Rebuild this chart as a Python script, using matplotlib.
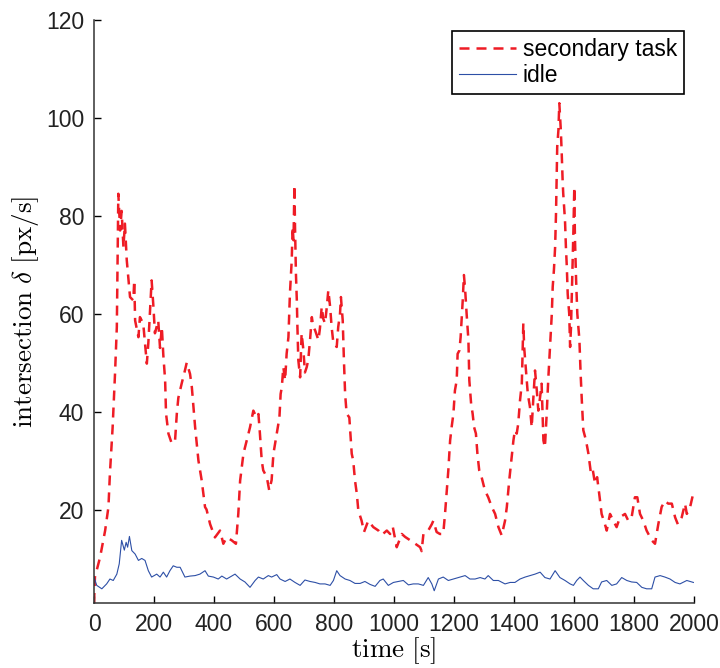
##################
#### Packages ####
##################

import numpy as np
import matplotlib
matplotlib.use('Agg')
import matplotlib.pyplot as plt

##############
#### Data ####
##############

# secondary task (red dashed)
t_task = [0, 3, 20, 37, 48, 53, 62, 70, 76, 81, 87, 92, 98, 103, 109, 120, 131, 134, 137, 148,
          153, 164, 176, 181, 192, 198, 203, 214, 220, 226, 231, 237, 240, 248, 259, 270, 276, 281, 292, 303,
          309, 320, 326, 337, 348, 359, 370, 375, 387, 403, 420, 431, 442, 459, 473, 481, 487, 498, 509, 520,
          531, 542, 548, 553, 559, 564, 576, 584, 592, 598, 609, 618, 622, 626, 631, 637, 642, 648, 653, 659,
          662, 665, 668, 670, 673, 676, 678, 681, 687, 692, 698, 703, 709, 714, 720, 726, 731, 737, 748, 753,
          759, 764, 770, 776, 781, 787, 792, 798, 809, 814, 820, 823, 829, 833, 837, 842, 851, 859, 864, 870,
          876, 881, 892, 900, 914, 931, 948, 959, 976, 987, 996, 1009, 1026, 1037, 1064, 1087, 1092, 1098, 1114, 1126,
          1131, 1142, 1153, 1164, 1170, 1176, 1181, 1187, 1192, 1198, 1203, 1209, 1212, 1218, 1222, 1226, 1229, 1233, 1237, 1242,
          1248, 1251, 1257, 1262, 1267, 1273, 1278, 1284, 1292, 1303, 1314, 1326, 1337, 1348, 1359, 1370, 1376, 1384, 1392, 1398,
          1403, 1409, 1414, 1420, 1426, 1431, 1434, 1440, 1446, 1453, 1459, 1464, 1470, 1476, 1481, 1487, 1492, 1498, 1503, 1509,
          1514, 1520, 1526, 1529, 1533, 1537, 1540, 1542, 1544, 1548, 1551, 1556, 1559, 1562, 1564, 1570, 1573, 1576, 1579, 1584,
          1587, 1590, 1594, 1598, 1601, 1603, 1607, 1611, 1618, 1622, 1626, 1631, 1640, 1648, 1656, 1662, 1670, 1677, 1684, 1692,
          1703, 1709, 1720, 1731, 1742, 1753, 1770, 1781, 1792, 1803, 1811, 1820, 1831, 1842, 1859, 1870, 1881, 1892, 1903, 1914,
          1926, 1937, 1946, 1959, 1970, 1976, 1987, 1996, 2000]
v_task = [0.9, 6.2, 10.2, 15.7, 20.5, 27.4, 36.8, 47.8, 57.3, 84.5, 77, 81, 73.6, 78.4, 71, 63.4, 62.7, 66.8, 58.6, 55.2,
          59.3, 58, 49.8, 54, 66.8, 61.4, 56, 58.6, 53, 57.3, 51.5, 46.4, 39.6, 35.5, 33.5, 34, 39.6, 42.8, 45.7, 48.4,
          50, 47.7, 45, 36.8, 30, 25.9, 20.5, 20, 17, 14.3, 15.7, 13, 14.3, 13.7, 13, 19.2, 25.9, 31.4, 34.1, 36.8,
          40.2, 38.8, 39.5, 35.5, 30, 28, 26.6, 23.9, 26, 31.4, 35.5, 38.8, 43.6, 45, 49.1, 46.4, 51.8, 55.2, 64.1, 70.9,
          77.7, 75, 86.3, 77.7, 68.2, 62.7, 57.3, 50.5, 47, 56, 52.5, 48, 49.1, 50.5, 54.6, 59.3, 57.3, 56.6, 54.6, 57,
          61.4, 59, 58, 61.4, 64.8, 61.4, 57.3, 53.9, 53.2, 57.3, 60, 63.4, 58.6, 50.5, 43.6, 39.6, 38.8, 31.4, 30, 25.9,
          23.2, 19.8, 17.7, 15.4, 17.7, 16.4, 15.7, 14.8, 15.7, 15, 16.4, 12.3, 15, 14.4, 13.3, 12.3, 11.5, 15, 15.7, 17,
          17.7, 15.4, 15, 15, 19.1, 23.9, 28, 34.1, 36.8, 39.6, 44.3, 46.4, 51.8, 52.5, 55.2, 59.3, 62.7, 67.9, 65, 60,
          54.6, 46.4, 41.6, 39.6, 36.8, 35.5, 31.4, 28, 26.6, 23.9, 22.5, 20.5, 19.1, 16.4, 14.7, 17.7, 20.5, 25.9, 30.7, 34.1,
          36.2, 35.5, 37.5, 42.3, 45.7, 58, 53, 48.4, 43.6, 41, 36.8, 42.3, 48.4, 44.3, 40.2, 43, 45.7, 34.1, 32.7, 39.6,
          46.4, 53.2, 60, 65.5, 68.9, 73.6, 80.5, 87.3, 94.1, 97.5, 103, 97.5, 92.8, 87.3, 84.6, 79, 73.6, 69.6, 64, 60,
          53.2, 57.3, 66.8, 77, 85.9, 75.7, 66.8, 60, 54.6, 47.8, 42.3, 36.2, 34.1, 31.4, 27.6, 28.3, 25.3, 26.6, 23.2, 19.1,
          17, 15.7, 19.1, 17.7, 16.4, 18.4, 19.1, 17.7, 18.4, 22.5, 22.5, 19.1, 17.7, 15.7, 13.7, 13, 17, 20.5, 21.8, 21.2,
          21.2, 18.4, 17, 18.4, 21.2, 19.1, 20.5, 22.9, 22.5]

# idle (blue solid)
t_idle = [0, 9, 26, 42, 53, 64, 76, 84, 92, 101, 107, 112, 118, 126, 137, 148, 159, 170, 181, 192,
          209, 220, 231, 242, 253, 264, 276, 287, 303, 320, 337, 353, 370, 381, 398, 414, 426, 442, 453, 470,
          487, 503, 520, 537, 548, 564, 581, 592, 609, 620, 637, 653, 670, 687, 703, 720, 737, 753, 770, 787,
          798, 809, 820, 837, 853, 870, 887, 903, 920, 937, 953, 964, 981, 998, 1014, 1031, 1048, 1064, 1081, 1098,
          1114, 1126, 1134, 1148, 1164, 1181, 1198, 1214, 1237, 1253, 1270, 1287, 1303, 1314, 1331, 1348, 1370, 1387, 1403, 1420,
          1437, 1453, 1470, 1487, 1503, 1520, 1537, 1553, 1570, 1587, 1598, 1609, 1620, 1631, 1648, 1664, 1681, 1692, 1709, 1726,
          1742, 1759, 1776, 1792, 1809, 1826, 1842, 1859, 1870, 1887, 1903, 1920, 1937, 1953, 1976, 1998]
v_idle = [6.2, 4.5, 3.8, 4.8, 5.8, 5.5, 6.8, 8.9, 13.7, 11.7, 13.3, 12.3, 14.5, 11.6, 10.9, 9.6, 10, 9.6, 7.5, 6.2,
          6.8, 6.2, 7.2, 6.2, 7.5, 8.5, 8.2, 8.2, 6.2, 6.4, 6.5, 6.8, 7.5, 6.4, 6.2, 5.8, 6.4, 5.8, 6.2, 6.8,
          5.8, 5.2, 4.1, 5.5, 6.2, 5.8, 6.5, 6.2, 6.7, 5.8, 5.3, 5.8, 5.1, 4.5, 5.6, 5.3, 5.1, 4.8, 4.8, 4.5,
          5.5, 7.5, 6.5, 5.8, 5.5, 4.9, 4.9, 5.3, 4.7, 4.3, 5.5, 5.8, 4.5, 5.1, 5.3, 5.5, 4.6, 4.8, 4.8, 4.5,
          6.1, 4.8, 3.4, 5.8, 6.2, 5.5, 5.8, 6.1, 6.5, 5.8, 5.8, 6.1, 5.8, 6.5, 5.5, 5.5, 4.8, 5.1, 5.1, 5.8,
          6.2, 6.5, 6.8, 7.2, 6.1, 5.8, 7.5, 6.1, 5.5, 4.8, 4.5, 5.5, 6.2, 5.5, 4.5, 3.8, 3.8, 5.2, 5.5, 4.5,
          4.8, 6.1, 5.5, 5.2, 5.1, 4.1, 3.8, 3.8, 6.2, 6.5, 6.2, 5.8, 5.1, 4.8, 5.5, 5.1]

x_ticks = [0, 200, 400, 600, 800, 1000, 1200, 1400, 1600, 1800, 2000]
y_ticks = [20, 40, 60, 80, 100, 120]

##################
#### Plotting ####
##################

plt.rcParams['mathtext.fontset'] = 'cm'

fig = plt.figure(figsize = (7.2, 6.68), dpi = 100, facecolor = 'w')
ax = fig.add_axes([0.1306, 0.0973, 0.8333, 0.8728])

ax.plot(t_task, v_task, color = '#ee1c25', linewidth = 1.8, linestyle = (0, (4, 2.8)), label = 'secondary task')
ax.plot(t_idle, v_idle, color = '#2d4fa6', linewidth = 0.8, label = 'idle')

# axis limits and ticks (MATLAB look: box off, ticks inward)
ax.set_xlim(0, 2000)
ax.set_ylim(0.9, 120)
ax.set_xticks(x_ticks)
ax.set_yticks(y_ticks)
ax.tick_params(direction = 'in', length = 5, width = 1, labelsize = 16.5, pad = 7)
for lbl in ax.get_xticklabels() + ax.get_yticklabels():
    lbl.set_family('Liberation Sans')
    lbl.set_color('#222222')

for side in ['top', 'right']:
    ax.spines[side].set_visible(False)
for side in ['left', 'bottom']:
    ax.spines[side].set_linewidth(1.1)
    ax.spines[side].set_color('#333333')

# labels in LaTeX style
ax.set_xlabel(r'$\mathrm{time\ [s]}$', fontsize = 19.5, labelpad = 0)
ax.set_ylabel(r'$\mathrm{intersection}\ \delta\ \mathrm{[px/s]}$', fontsize = 19.5, labelpad = 4)

# legend box
leg = ax.legend(loc = 'upper right', bbox_to_anchor = (0.9833, 0.981), fancybox = False,
                edgecolor = 'k', framealpha = 1, handlelength = 2.5, handletextpad = 0.3,
                labelspacing = 0.15, borderpad = 0.3, borderaxespad = 0,
                prop = {'family': 'Liberation Sans', 'size': 16.5})
leg.get_frame().set_linewidth(1.2)

plt.savefig('out.png', dpi = 100)
